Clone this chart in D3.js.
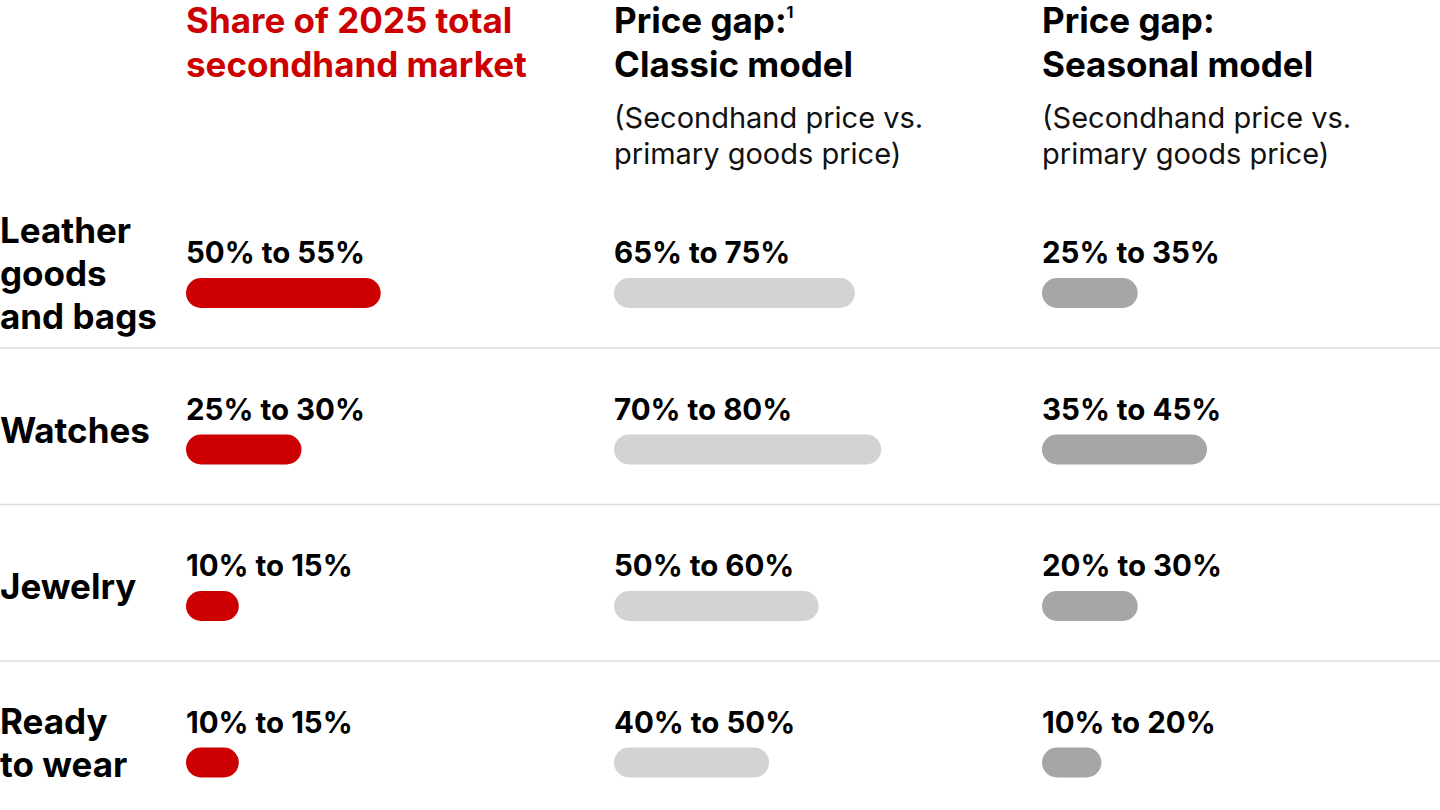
<!DOCTYPE html>
<html>
<head>
    <script src="https://d3js.org/d3.v7.min.js"></script>
    <style>
        body { margin: 0; background: #fff; }
        text { font-family: Inter, Roboto, "Noto Sans", sans-serif; }
    </style>
</head>
<body>
<script>
    // categories (row labels, split into lines)
    const categories = [
        ["Leather", "goods", "and bags"],
        ["Watches"],
        ["Jewelry"],
        ["Ready", "to wear"]
    ];

    // column headers
    const headers = [
        { title: ["Share of 2025 total", "secondhand market"], sup: null, sub: [] },
        { title: ["Price gap:", "Classic model"], sup: "1", sub: ["(Secondhand price vs.", "primary goods price)"] },
        { title: ["Price gap:", "Seasonal model"], sup: null, sub: ["(Secondhand price vs.", "primary goods price)"] }
    ];

    // range labels per column
    const shareLabels = ["50% to 55%", "25% to 30%", "10% to 15%", "10% to 15%"];
    const classicLabels = ["65% to 75%", "70% to 80%", "50% to 60%", "40% to 50%"];
    const seasonalLabels = ["25% to 35%", "35% to 45%", "20% to 30%", "10% to 20%"];

    // bar lengths (percent scale)
    const shareBars = [59, 35, 16, 16];
    const classicBars = [73, 81, 62, 47];
    const seasonalBars = [29, 50, 29, 18];

    const width = 1440, height = 810;
    const colX = [186, 614, 1042];
    const colColors = ["#cc0000", "#d3d3d3", "#a6a6a6"];

    const svg = d3.select("body").append("svg")
        .attr("width", width)
        .attr("height", height);

    // 行の位置
    const y = d3.scaleBand()
        .domain(d3.range(categories.length))
        .range([192, 818]);

    const x = d3.scaleLinear()
        .domain([0, 100])
        .range([0, 330]);

    // 見出し
    headers.forEach((h, i) => {
        const g = svg.append("g").attr("transform", `translate(${colX[i]},0)`);
        h.title.forEach((line, j) => {
            const t = g.append("text")
                .attr("y", 33 + j * 44)
                .attr("font-size", 35)
                .attr("font-weight", 700)
                .attr("fill", i === 0 ? "#cc0000" : "#000")
                .text(line);
            if (j === 0 && h.sup) {
                t.append("tspan")
                    .attr("font-size", 16)
                    .attr("dy", -15)
                    .text(h.sup);
            }
        });
        h.sub.forEach((line, j) => {
            g.append("text")
                .attr("y", 128 + j * 36)
                .attr("font-size", 29)
                .attr("fill", "#111")
                .text(line);
        });
    });

    // 区切り線
    svg.selectAll("line.sep")
        .data(d3.range(1, categories.length))
        .enter().append("line")
        .attr("class", "sep")
        .attr("x1", 0)
        .attr("x2", width)
        .attr("y1", d => y(d) - 0.5)
        .attr("y2", d => y(d) - 0.5)
        .attr("stroke", "#dcdcdc")
        .attr("stroke-width", 1.5);

    // 行ラベル
    svg.selectAll("text.cat")
        .data(categories)
        .enter().append("text")
        .attr("class", "cat")
        .attr("font-size", 35)
        .attr("font-weight", 700)
        .each(function (d, i) {
            const mid = y(i) + y.bandwidth() / 2 - 6;
            const lh = 43;
            const top = mid - (d.length - 1) * lh / 2 + 22;
            d.forEach((line, j) => {
                d3.select(this).append("tspan")
                    .attr("x", 0)
                    .attr("y", top + j * lh)
                    .text(line);
            });
        });

    const cols = [
        { labels: shareLabels, bars: shareBars },
        { labels: classicLabels, bars: classicBars },
        { labels: seasonalLabels, bars: seasonalBars }
    ];

    cols.forEach((c, ci) => {
        const g = svg.append("g").attr("transform", `translate(${colX[ci]},0)`);

        g.selectAll("text.val")
            .data(c.labels)
            .enter().append("text")
            .attr("class", "val")
            .attr("y", (d, i) => y(i) + 71)
            .attr("font-size", 29.5)
            .attr("font-weight", 700)
            .attr("fill", "#000")
            .text(d => d);

        g.selectAll("rect.bar")
            .data(c.bars)
            .enter().append("rect")
            .attr("class", "bar")
            .attr("x", 0)
            .attr("y", (d, i) => y(i) + 86)
            .attr("width", d => x(d))
            .attr("height", 30)
            .attr("rx", 15)
            .attr("ry", 15)
            .attr("fill", colColors[ci]);
    });
</script>
</body>
</html>
